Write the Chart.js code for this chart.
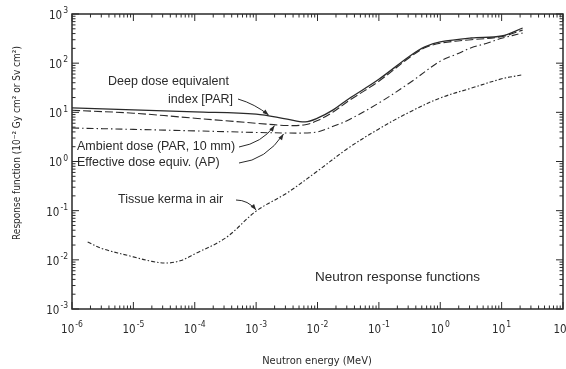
<!DOCTYPE html>
<html>
<head>
<meta charset="utf-8">
<script src="https://cdn.jsdelivr.net/npm/chart.js@4.4.1/dist/chart.umd.min.js"></script>
<style>
  html, body { margin: 0; padding: 0; background: #fff; }
</style>
</head>
<body>
<canvas id="respChart" width="566" height="369"></canvas>
<script>
// neutron energy (MeV) and response values
const doseEnergy = [1e-6, 1e-5, 1e-4, 1e-3, 3.2e-3, 6.3e-3, 1e-2, 1.8e-2, 3.2e-2, 0.1, 0.32, 0.56, 1, 3.2, 10, 22];
const deepDose = [12.3, 11.2, 10.2, 9.2, 7.3, 6.4, 7.6, 11.2, 18.7, 47, 140, 215, 270, 325, 357, 519];
const ambientDose = [11.0, 9.6, 7.6, 6.0, 5.4, 5.6, 6.8, 10.2, 17, 43, 132, 205, 255, 300, 345, 470];

const effEnergy = [1e-6, 1e-5, 1e-4, 1e-3, 3.2e-3, 6.3e-3, 1e-2, 1.8e-2, 3.2e-2, 0.1, 0.32, 1, 1.8, 3.2, 5.6, 10, 22];
const effectiveDose = [4.8, 4.5, 4.2, 3.9, 3.8, 3.8, 4.0, 5.2, 7.0, 15.5, 40, 110, 150, 206, 252, 320, 410];

const kermaEnergy = [1.8e-6, 3.2e-6, 1e-5, 2e-5, 3.5e-5, 6e-5, 1e-4, 3.2e-4, 1e-3, 3.2e-3, 1e-2, 3.2e-2, 0.1, 0.32, 1, 3.2, 10, 22];
const tissueKerma = [0.023, 0.0167, 0.0115, 0.0093, 0.0086, 0.0097, 0.0132, 0.028, 0.098, 0.23, 0.64, 1.89, 4.6, 10.2, 19.6, 31, 48, 58];

// tick labels are 10^n, these are the exponents
const xDecades = [-6, -5, -4, -3, -2, -1, 0, 1, 2];
const yDecades = [-3, -2, -1, 0, 1, 2, 3];

const ink = '#2a2a2a';
const narrow = '"Liberation Sans Narrow", "DejaVu Sans Condensed", sans-serif';
const plain = '"Liberation Sans", Arial, sans-serif';

function pts(xs, ys) {
  return xs.map((e, i) => ({ x: e, y: ys[i] }));
}

// log-log interpolation along a series, used to aim the label arrows at the curves
function onCurve(xs, ys, e) {
  for (let i = 0; i < xs.length - 1; i++) {
    if (e >= xs[i] && e <= xs[i + 1]) {
      const t = (Math.log(e) - Math.log(xs[i])) / (Math.log(xs[i + 1]) - Math.log(xs[i]));
      return Math.exp(Math.log(ys[i]) + t * (Math.log(ys[i + 1]) - Math.log(ys[i])));
    }
  }
  return ys[ys.length - 1];
}

function pow10Label(ctx, d, x, y, align) {
  ctx.font = '11.5px ' + narrow;
  const base = '10';
  const wb = ctx.measureText(base).width;
  ctx.font = '8.5px ' + narrow;
  const exp = d < 0 ? '-' + Math.abs(d) : String(d);
  const we = ctx.measureText(exp).width;
  const w = wb + we + 1;
  const x0 = align === 'right' ? x - w : x - w / 2;
  ctx.textAlign = 'left';
  ctx.textBaseline = 'middle';
  ctx.font = '11.5px ' + narrow;
  ctx.fillText(base, x0, y);
  ctx.font = '8.5px ' + narrow;
  ctx.fillText(exp, x0 + wb + 1, y - 5);
}

function arrow(ctx, x0, y0, cx, cy, x1, y1) {
  ctx.beginPath();
  ctx.moveTo(x0, y0);
  ctx.quadraticCurveTo(cx, cy, x1, y1);
  ctx.stroke();
  const a = Math.atan2(y1 - cy, x1 - cx);
  ctx.beginPath();
  ctx.moveTo(x1, y1);
  ctx.lineTo(x1 - 6 * Math.cos(a) + 2.2 * Math.sin(a), y1 - 6 * Math.sin(a) - 2.2 * Math.cos(a));
  ctx.lineTo(x1 - 6 * Math.cos(a) - 2.2 * Math.sin(a), y1 - 6 * Math.sin(a) + 2.2 * Math.cos(a));
  ctx.closePath();
  ctx.fill();
}

const framePlugin = {
  id: 'frame',
  beforeDraw(chart) {
    const ctx = chart.ctx;
    ctx.save();
    ctx.fillStyle = '#fff';
    ctx.fillRect(0, 0, chart.width, chart.height);
    ctx.restore();
  },
  afterDraw(chart) {
    const ctx = chart.ctx;
    const a = chart.chartArea;
    const xs = chart.scales.x, ys = chart.scales.y;
    ctx.save();
    ctx.strokeStyle = ink;
    ctx.fillStyle = ink;

    // box
    ctx.lineWidth = 1.5;
    ctx.strokeRect(a.left, a.top, a.right - a.left, a.bottom - a.top);

    // inward ticks on all four sides
    ctx.lineWidth = 1;
    ctx.beginPath();
    for (let d = -6; d <= 2; d++) {
      for (let m = 1; m <= 9; m++) {
        const v = m * Math.pow(10, d);
        if (v > 100) break;
        const px = xs.getPixelForValue(v);
        const len = m === 1 ? 7 : 3.5;
        ctx.moveTo(px, a.bottom); ctx.lineTo(px, a.bottom - len);
        ctx.moveTo(px, a.top); ctx.lineTo(px, a.top + len);
      }
    }
    for (let d = -3; d <= 3; d++) {
      for (let m = 1; m <= 9; m++) {
        const v = m * Math.pow(10, d);
        if (v > 1000) break;
        const py = ys.getPixelForValue(v);
        const len = m === 1 ? 7 : 3.5;
        ctx.moveTo(a.left, py); ctx.lineTo(a.left + len, py);
        ctx.moveTo(a.right, py); ctx.lineTo(a.right - len, py);
      }
    }
    ctx.stroke();

    // tick labels
    xDecades.forEach(d => pow10Label(ctx, d, xs.getPixelForValue(Math.pow(10, d)), a.bottom + 21, 'center'));
    yDecades.forEach(d => pow10Label(ctx, d, a.left - 4, ys.getPixelForValue(Math.pow(10, d)) + 2, 'right'));

    // axis titles
    ctx.textAlign = 'center';
    ctx.textBaseline = 'middle';
    ctx.font = '11px ' + narrow;
    ctx.fillText('Neutron energy (MeV)', 317, 361);
    ctx.save();
    ctx.translate(17, 143);
    ctx.rotate(-Math.PI / 2);
    ctx.font = '10px ' + narrow;
    ctx.fillText('Response function (10\u207B\u00B2 Gy cm\u00B2 or Sv cm\u00B2)', 0, 0);
    ctx.restore();

    // curve labels
    ctx.textAlign = 'left';
    ctx.font = '12.5px ' + plain;
    ctx.fillText('Deep dose equivalent', 108, 82);
    ctx.fillText('index [PAR]', 168, 100);
    ctx.fillText('Ambient dose (PAR, 10 mm)', 77, 147);
    ctx.fillText('Effective dose equiv. (AP)', 77, 163);
    ctx.fillText('Tissue kerma in air', 118, 200);
    ctx.font = '13.5px ' + plain;
    ctx.fillText('Neutron response functions', 315, 277);

    // arrows to the curves
    let e = 1.6e-3;
    arrow(ctx, 238, 99, 255, 104, xs.getPixelForValue(e), ys.getPixelForValue(onCurve(doseEnergy, deepDose, e)) - 1);
    e = 2.0e-3;
    arrow(ctx, 239, 147, 262, 143, xs.getPixelForValue(e), ys.getPixelForValue(onCurve(doseEnergy, ambientDose, e)) + 1);
    e = 2.8e-3;
    arrow(ctx, 239, 163, 266, 160, xs.getPixelForValue(e), ys.getPixelForValue(onCurve(effEnergy, effectiveDose, e)) + 1);
    e = 1.0e-3;
    arrow(ctx, 236, 200, 248, 200, xs.getPixelForValue(e), ys.getPixelForValue(onCurve(kermaEnergy, tissueKerma, e)) - 1);

    ctx.restore();
  }
};

const ctx = document.getElementById('respChart').getContext('2d');
new Chart(ctx, {
  type: 'line',
  data: {
    datasets: [
      { label: 'Deep dose equivalent index (PAR)', data: pts(doseEnergy, deepDose), borderColor: ink, borderWidth: 1.3 },
      { label: 'Ambient dose (PAR, 10 mm)', data: pts(doseEnergy, ambientDose), borderColor: ink, borderWidth: 1.1, borderDash: [8, 3] },
      { label: 'Effective dose equiv. (AP)', data: pts(effEnergy, effectiveDose), borderColor: ink, borderWidth: 1.1, borderDash: [7, 3, 1.5, 3] },
      { label: 'Tissue kerma in air', data: pts(kermaEnergy, tissueKerma), borderColor: ink, borderWidth: 1.1, borderDash: [4, 2, 1.5, 2] }
    ]
  },
  options: {
    responsive: false,
    animation: false,
    layout: { padding: { left: 72, right: 3, top: 14, bottom: 60 } },
    elements: {
      point: { radius: 0 },
      line: { tension: 0.35, fill: false }
    },
    scales: {
      x: { type: 'logarithmic', min: 1e-6, max: 100, display: false },
      y: { type: 'logarithmic', min: 1e-3, max: 1000, display: false }
    },
    plugins: {
      legend: { display: false },
      tooltip: { enabled: false }
    }
  },
  plugins: [framePlugin]
});
</script>
</body>
</html>
